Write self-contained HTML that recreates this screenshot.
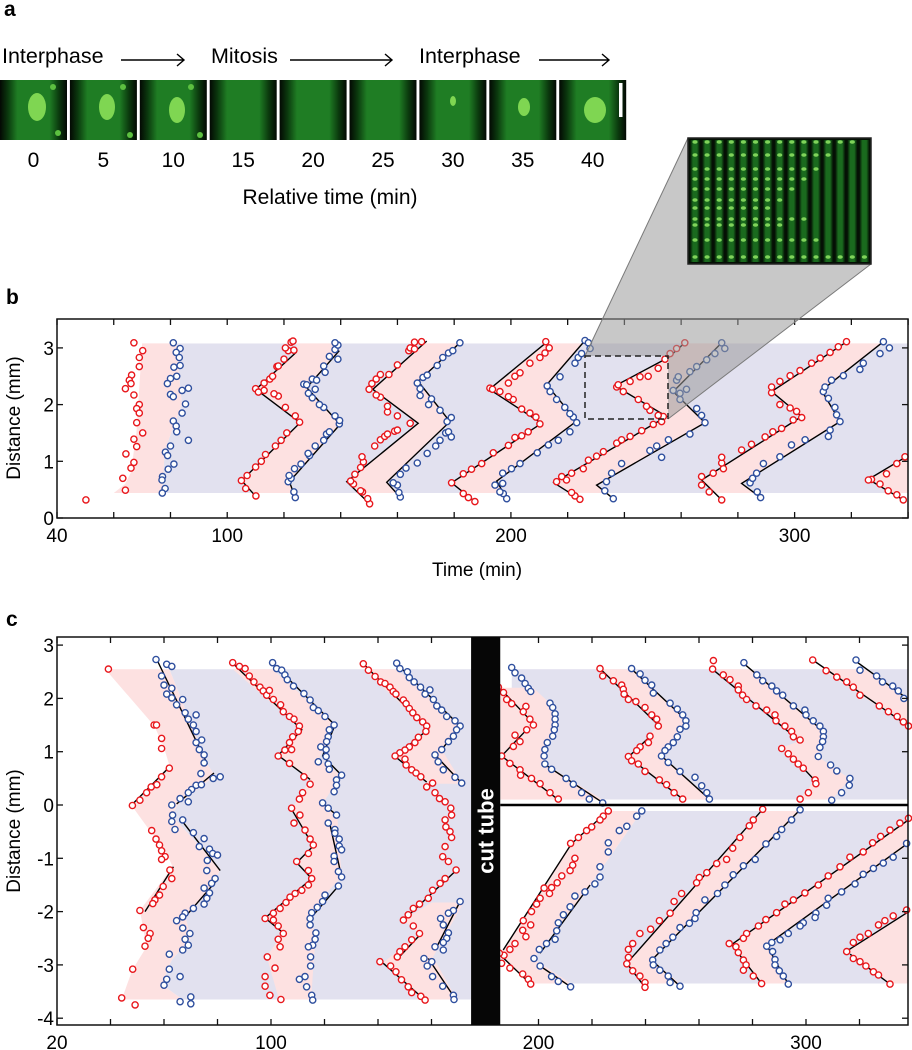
<!DOCTYPE html>
<html><head><meta charset="utf-8"><style>
body{margin:0;background:#fff;}
svg{display:block;font-family:"Liberation Sans",Arial,sans-serif;}
</style></head><body>
<svg id="fig" width="912" height="1050" viewBox="0 0 912 1050" xmlns="http://www.w3.org/2000/svg">
<defs>
<linearGradient id="tileg" x1="0" x2="1" y1="0" y2="0">
<stop offset="0" stop-color="#030803"/><stop offset="0.12" stop-color="#0b3a0e"/><stop offset="0.26" stop-color="#1f7d24"/><stop offset="0.74" stop-color="#1f7d24"/><stop offset="0.88" stop-color="#0b3a0e"/><stop offset="1" stop-color="#030803"/>
</linearGradient>
<linearGradient id="colg" x1="0" x2="1" y1="0" y2="0">
<stop offset="0" stop-color="#041204"/><stop offset="0.3" stop-color="#1a6a1e"/><stop offset="0.7" stop-color="#1a6a1e"/><stop offset="1" stop-color="#041204"/>
</linearGradient>
<clipPath id="clipB"><rect x="57" y="319" width="851" height="199"/></clipPath>
<clipPath id="clipC"><rect x="57" y="637" width="851" height="388"/></clipPath>
</defs>
<g id="panelA">
<text x="4" y="16" font-size="21" font-weight="bold">a</text>
<text x="2" y="63" font-size="21.5">Interphase</text>
<text x="211" y="63" font-size="21.5">Mitosis</text>
<text x="419" y="63" font-size="21.5">Interphase</text>
<g stroke="#000" stroke-width="1.4" fill="none">
<path d="M121 60 H184 M177 54 L184 60 L177 66"/>
<path d="M290 60 H392 M385 54 L392 60 L385 66"/>
<path d="M539 60 H609 M602 54 L609 60 L602 66"/>
</g>
<g id="tiles"></g>
<text x="330" y="204" font-size="21" text-anchor="middle">Relative time (min)</text>
</g>
<g id="panelB">
<text x="6" y="304" font-size="21" font-weight="bold">b</text>
<g id="bBands" clip-path="url(#clipB)"></g>
<g id="bLines" clip-path="url(#clipB)"></g>
<g id="bPts"></g>
<g id="bAxes"></g>
<text x="477" y="576" font-size="19" text-anchor="middle">Time (min)</text>
<text transform="translate(20,418) rotate(-90)" font-size="19" text-anchor="middle">Distance (mm)</text>
</g>
<g id="zoomOverlay">
<polygon points="585,356 688,138 871,138 871,264 668,419 668,356" fill="#9a9a9a" fill-opacity="0.55"/>
<line x1="585" y1="356" x2="688" y2="138" stroke="#7a7a7a" stroke-width="1"/>
<line x1="668" y1="419" x2="871" y2="264" stroke="#7a7a7a" stroke-width="1"/>
<rect x="585" y="356" width="83" height="63" fill="none" stroke="#222" stroke-width="1.5" stroke-dasharray="6,4"/>
<g id="inset"></g>
</g>
<g id="panelC">
<text x="6" y="626" font-size="21" font-weight="bold">c</text>
<g id="cBands" clip-path="url(#clipC)"></g>
<g id="cLines" clip-path="url(#clipC)"></g>
<g id="cPts"></g>
<g id="cAxes"></g>
<text transform="translate(20,831) rotate(-90)" font-size="19" text-anchor="middle">Distance (mm)</text>
</g>
</svg>
<script>
// ---------- Panel b data (time min, distance mm) ----------
const bXTicks = [40,60,80,100,120,140,160,180,200,220,240,260,280,300,320,340];
const bXLabels = [40,100,200,300];
const bYTicks = [0,1,2,3];
const bBand = [0.44,3.08];
const b_r1 = [[67.1,3.09],[70.2,2.95],[69.0,2.83],[69.0,2.67],[66.3,2.52],[65.5,2.43],[66.1,2.37],[64.1,2.28],[67.1,2.17],[69.0,2.0],[68.1,1.93],[69.0,1.85],[68.1,1.68],[70.2,1.5],[67.1,1.39],[68.1,1.26],[64.3,1.13],[67.1,0.98],[66.1,0.88],[63.2,0.70],[64.1,0.49],[50.2,0.32]];
const b_b1 = [[81.0,3.09],[83.4,2.99],[82.0,2.92],[83.1,2.83],[81.2,2.66],[83.4,2.69],[80.0,2.46],[78.9,2.37],[82.2,2.5],[86.3,2.29],[84.1,2.25],[80.0,2.18],[81.0,2.14],[85.3,2.01],[84.1,1.85],[81.0,1.71],[82.0,1.62],[82.2,1.52],[86.3,1.37],[80.0,1.27],[78.2,1.16],[79.0,1.10],[81.2,0.95],[79.2,0.86],[77.2,0.73],[77.0,0.67],[78.1,0.52],[77.1,0.44]];
const b_r2 = [[110.1,0.39],[106.5,0.52],[105,0.66],[107,0.75],[110,0.9],[112,1.0],[113.5,1.12],[117,1.27],[119,1.37],[121,1.5],[124,1.8],[125.5,1.69],[120.5,1.95],[118,2.15],[116.5,2.19],[113,2.25],[110,2.28],[111,2.22],[113,2.38],[115,2.45],[116,2.5],[117.5,2.67],[118,2.68],[120,2.8],[121.5,2.95],[120.5,3.0],[122.5,3.1],[123.2,3.12],[123.5,2.96]];
const b_b2 = [[124,0.36],[123.5,0.46],[121.5,0.64],[122.5,0.7],[121.8,0.75],[123.7,0.87],[126,0.95],[129,1.1],[128.5,1.14],[131,1.27],[134,1.37],[135,1.48],[136,1.52],[139.5,1.66],[139.6,1.72],[138,1.8],[134,1.95],[132.5,2.0],[130,2.12],[128.6,2.2],[127,2.36],[128,2.35],[131,2.27],[130,2.45],[131.5,2.43],[134,2.68],[134.5,2.57],[136,2.85],[138,2.97],[139,3.05],[138,3.09],[139,2.8]];
const b_r3 = [[150.2,0.25],[149.5,0.34],[147.7,0.46],[147,0.48],[144.5,0.6],[143.5,0.65],[145,0.77],[147,0.89],[148,0.99],[147.5,1.08],[152,1.27],[154,1.38],[155.5,1.44],[156.5,1.48],[159,1.53],[160,1.55],[164.5,1.67],[160,1.8],[156.5,1.87],[156.5,1.97],[154,2.13],[152.5,2.17],[150,2.27],[151,2.37],[152.5,2.45],[154,2.53],[157,2.53],[160,2.7],[164,2.95],[164.5,3.0],[166,3.1],[168.5,3.11],[166,2.98]];
const b_b3 = [[161,0.37],[160.5,0.45],[160,0.58],[158.5,0.62],[161,0.77],[163,0.88],[167,0.97],[170.5,1.14],[173.5,1.27],[175,1.37],[177,1.5],[178,1.52],[179,1.43],[177.5,1.7],[179,1.77],[175,1.9],[172,2.1],[171,2.0],[168,2.16],[168,2.28],[167,2.38],[169,2.48],[170.5,2.52],[174,2.69],[176,2.83],[178,2.91],[179.5,2.95],[182,3.09]];
const b_r4 = [[187.3,0.29],[185,0.36],[183.2,0.43],[179.1,0.62],[183.2,0.78],[186.1,0.86],[189.7,0.96],[193.8,1.15],[199.1,1.28],[201.4,1.42],[203.8,1.45],[206.1,1.52],[210.2,1.66],[208.8,1.78],[206.7,1.85],[203.8,1.92],[200.8,2.09],[199.1,2.14],[196.1,2.23],[192.6,2.29],[193.5,2.27],[199.1,2.38],[201.4,2.5],[203.2,2.56],[206.7,2.73],[210.2,2.83],[212,2.91],[213.5,3.0],[212.3,3.11]];
const b_b4 = [[198.5,0.34],[197.3,0.43],[196.1,0.46],[194.4,0.58],[197.1,0.61],[197.1,0.79],[200.2,0.87],[203.2,0.96],[209.3,1.15],[213.2,1.29],[216.7,1.37],[220.8,1.52],[223.2,1.68],[222,1.78],[220.8,1.84],[219,1.95],[216.1,2.09],[213.8,2.23],[212.8,2.33],[217.3,2.49],[222.6,2.73],[223.7,2.83],[224.9,2.9],[226.1,3.13],[227.3,3.09],[227.9,2.99]];
const b_r5 = [[224.3,0.33],[222.6,0.39],[221.4,0.45],[219.6,0.67],[216.1,0.64],[217.9,0.73],[221.4,0.79],[225.5,0.87],[227.3,1.02],[230.2,1.09],[232.6,1.17],[237.3,1.32],[239,1.38],[242,1.44],[246.1,1.54],[250.2,1.65],[253.1,1.7],[253.7,1.79],[251.9,1.81],[249,1.9],[247.8,1.97],[244.9,2.09],[239.6,2.23],[237.3,2.31],[237.8,2.35],[242,2.41],[245.5,2.49],[248.4,2.5],[251.9,2.64],[254.3,2.8],[256.1,2.9],[258.4,2.99],[261.3,3.09]];
const b_b5 = [[236.1,0.34],[233.1,0.48],[233.7,0.64],[235.5,0.79],[239,0.96],[249,1.19],[251.4,1.27],[253.1,1.07],[255.5,1.38],[263.1,1.48],[265.5,1.93],[267.2,1.81],[268.4,1.68],[259.6,2.09],[259.6,2.2],[261.9,2.27],[257.2,2.25],[258.4,2.43],[259,2.49],[263.1,2.58],[265.5,2.67],[269,2.79],[271.9,2.9],[274.3,3.09],[275.4,2.99]];
const b_r6 = [[274.3,0.32],[269.9,0.46],[267.2,0.58],[267.2,0.73],[271.3,0.79],[274.9,0.87],[274.3,0.97],[274.3,1.07],[281.3,1.2],[284.8,1.3],[289.6,1.43],[292.3,1.52],[295.4,1.58],[299.5,1.73],[302.5,1.77],[300.7,1.88],[298.4,1.94],[294.8,2.0],[291.9,2.21],[291.9,2.31],[294.8,2.41],[298.4,2.51],[301.9,2.6],[306,2.73],[309,2.82],[312.5,2.92],[315.4,3.02],[318.3,3.11]];
const b_b6 = [[288,0.36],[286.8,0.46],[284.3,0.62],[285.2,0.7],[286.6,0.79],[289,0.96],[294.8,1.08],[298.9,1.29],[303.7,1.38],[311.9,1.44],[312.5,1.55],[316,1.7],[314.8,1.82],[314.2,1.95],[311.9,2.11],[310.1,2.23],[310.7,2.31],[313,2.43],[317.2,2.51],[323,2.62],[324.2,2.73],[330.1,2.9],[331.3,3.11],[333.4,3.0]];
const b_r7 = [[338.3,0.32],[336,0.41],[333,0.48],[330.1,0.6],[327.1,0.68],[326,0.67],[332.4,0.78],[336,0.96],[338.9,1.08]];
const bf_r1 = [[60,0.44],[64,0.6],[66,0.8],[68,1.5],[70,3.08]];
const bf_b1 = [[77,0.44],[78,1.2],[84,2.0],[82,3.08]];
const bf_r2 = [[110.1,0.38],[105.1,0.66],[125.7,1.68],[110.1,2.27],[124.5,2.93]];
const bf_b2 = [[124,0.36],[121.9,0.64],[139.8,1.65],[128,2.3],[139.5,2.95]];
const bf_r3 = [[150.2,0.25],[142.1,0.64],[167.3,1.67],[151.3,2.27],[170.3,3.12]];
const bf_b3 = [[160.9,0.37],[156.2,0.63],[178.5,1.7],[167.3,2.41],[182,3.09]];
const bf_r4 = [[187.3,0.29],[179.1,0.62],[210.8,1.67],[192.4,2.27],[212.6,3.10]];
const bf_b4 = [[198.5,0.34],[195,0.65],[223.2,1.71],[212.6,2.35],[226.1,3.13]];
const bf_r5 = [[224.4,0.33],[215.1,0.62],[254.9,1.79],[236.7,2.33],[255.5,2.83],[261.3,3.09]];
const bf_b5 = [[236.1,0.34],[230.2,0.58],[268.4,1.68],[257.2,2.23],[274.3,3.09]];
const bf_r6 = [[274.3,0.32],[267.2,0.67],[302.5,1.79],[291.9,2.23],[318.4,3.11]];
const bf_b6 = [[288,0.36],[281.3,0.61],[316,1.70],[309.5,2.25],[331.3,3.11]];
const bf_r7 = [[338.3,0.32],[326,0.68],[340,1.1]];

// ---------- Panel c data ----------
const cXTicks = [20,40,60,80,100,120,140,160,200,220,240,260,280,300,320,340];
const cXLabels = [20,100,200,300];
const cYTicks = [-4,-3,-2,-1,0,1,2,3];
const cCut = [174.8,185.7];
const cBandLeft = [-3.65,2.55];
const cBandUp = [0.1,2.55];
const cBandLow = [-3.35,-0.11];
const c_r1 = [[39.2,2.55],[56.3,1.5],[57.2,1.5],[59.1,1.25],[59.1,1.06],[62,0.69],[59.1,0.53],[57.3,0.38],[55.2,0.34],[53.5,0.23],[51,0.09],[48.2,-0.01],[55.4,-0.48],[57,-0.64],[58.3,-0.75],[59.1,-0.86],[60.4,-0.97],[59.1,-1.02],[62.2,-1.22],[62.9,-1.38],[59.7,-1.53],[58.3,-1.69],[56.6,-1.78],[55.8,-1.85],[51,-1.98],[52.3,-2.3],[54.8,-2.41],[54.1,-2.5],[52.9,-2.65],[48.3,-3.08],[44.2,-3.62],[49.2,-3.75]];
const c_b1 = [[57,2.73],[59.1,2.42],[61,2.64],[62.9,2.6],[60,2.25],[62.9,2.19],[61,2.08],[62.9,2.01],[67,1.98],[64.7,1.88],[67.9,1.73],[69.1,1.61],[72,1.69],[71,1.5],[72,1.38],[74.1,1.22],[72,1.17],[73.2,1.04],[75,0.94],[75,0.79],[73.8,0.59],[72,0.37],[74,0.38],[70.3,0.29],[69.1,0.23],[66,0.12],[69.1,0.06],[62.9,0.0],[78.4,0.5],[81,0.53],[63.2,-0.19],[62.9,-0.31],[64.1,-0.46],[67,-0.28],[71,-0.52],[75,-0.63],[73.2,-0.78],[77,-0.83],[78.2,-0.91],[80,-0.94],[76.2,-1.04],[76,-1.23],[79.1,-1.38],[77.8,-1.47],[75,-1.56],[77,-1.65],[76,-1.75],[75,-1.86],[71,-1.94],[67.9,-2.03],[67,-2.1],[64.7,-2.17],[67,-2.31],[69.7,-2.41],[67.9,-2.52],[69.1,-2.63],[67,-2.72],[62,-2.8],[62,-3.08],[61,-3.27],[60,-3.38],[66,-3.22],[70,-3.6],[70,-3.73],[66,-3.69]];
const c_r2 = [[85.7,2.67],[88.2,2.6],[90.3,2.56],[91.9,2.42],[93.6,2.31],[95.9,2.21],[97.1,2.14],[98.4,2.06],[99.4,2.15],[100.9,1.98],[103.6,1.88],[104.6,1.75],[106.9,1.66],[108.6,1.61],[110.6,1.48],[110.2,1.38],[108.1,1.28],[106.9,1.17],[107.7,1.04],[105.2,1.03],[102.7,0.92],[106.9,0.78],[112.3,0.53],[114.6,0.39],[111.8,0.23],[110.6,0.11],[107.7,-0.06],[110.8,-0.19],[108.6,-0.34],[112.7,-0.47],[114.6,-0.64],[115.8,-0.75],[114,-0.91],[109.6,-1.06],[114,-1.23],[115.2,-1.38],[114,-1.5],[111.5,-1.6],[109,-1.66],[107.1,-1.73],[105.6,-1.83],[103.4,-1.94],[100.9,-2.03],[97.8,-2.13],[100.9,-2.16],[102.7,-2.27],[104.6,-2.41],[102.7,-2.52],[103.4,-2.66],[98.6,-2.85],[101.5,-3.06],[97.8,-3.22],[97.8,-3.4],[99.6,-3.57],[103.7,-3.65]];
const c_b2 = [[100.6,2.67],[102.1,2.56],[104,2.53],[105.2,2.44],[106.1,2.35],[108.4,2.23],[112.3,2.09],[114.6,1.97],[115.8,1.83],[117.7,1.77],[120.2,1.66],[123.6,1.5],[121.8,1.41],[121.4,1.28],[120.8,1.19],[118.6,1.09],[120.6,1.04],[120.6,0.91],[117.7,0.81],[121.4,0.77],[121.8,0.67],[126.4,0.56],[124.5,0.47],[124.5,0.37],[123.6,0.25],[119.3,0.04],[121.4,-0.06],[124.5,-0.19],[121.4,-0.34],[123.9,-0.46],[123.9,-0.53],[125.5,-0.64],[125.5,-0.77],[126.4,-0.84],[123.6,-0.96],[123.6,-1.06],[125.2,-1.25],[126.4,-1.35],[125.2,-1.52],[120.2,-1.69],[119.3,-1.81],[117.3,-1.92],[115.2,-2.02],[114.6,-2.13],[114.6,-2.25],[116.8,-2.4],[116.5,-2.52],[115.6,-2.63],[114,-2.66],[114.8,-2.85],[114.8,-3.02],[112.7,-3.22],[110.6,-3.27],[113.3,-3.41],[115.2,-3.57],[115.6,-3.66]];
const c_r3 = [[134.5,2.65],[136.4,2.53],[138.9,2.41],[141,2.31],[142.6,2.28],[144.5,2.21],[145.7,2.13],[146.7,2.08],[149.5,1.97],[150.5,1.9],[151.7,1.81],[153,1.73],[154.5,1.64],[156.7,1.56],[158.2,1.48],[157.9,1.38],[155.1,1.27],[153.8,1.17],[151.7,1.09],[150.1,1.03],[148.2,0.98],[146.4,0.92],[150.1,0.86],[150.5,0.75],[152.6,0.66],[154.2,0.6],[156,0.53],[158.2,0.34],[160.4,0.41],[161.3,0.23],[163,0.12],[165.1,0.06],[167.2,-0.06],[167.5,-0.19],[165.1,-0.28],[165.4,-0.41],[166.9,-0.5],[167.5,-0.61],[165.1,-0.78],[164.2,-0.97],[166.3,-1.06],[169.2,-1.22],[165.1,-1.38],[163.2,-1.47],[160.4,-1.6],[158.8,-1.75],[155.5,-1.86],[153.2,-1.94],[151.3,-2.06],[149.5,-2.16],[153.2,-2.27],[155.5,-2.41],[152.6,-2.53],[150.1,-2.66],[148.2,-2.75],[147.2,-2.85],[140.7,-2.94],[144.7,-3.02],[146.7,-3.13],[148.8,-3.28],[151.3,-3.41],[152.6,-3.52],[156,-3.59],[157.6,-3.66]];
const c_b3 = [[147,2.66],[148.2,2.56],[151,2.5],[151.7,2.39],[153.5,2.31],[155.9,2.21],[159.4,2.16],[157.6,2.08],[160.7,1.98],[162,1.86],[163.8,1.78],[165.7,1.66],[168.8,1.58],[170.7,1.48],[169.4,1.41],[168.2,1.29],[166.3,1.19],[163.8,1.04],[161.3,0.94],[162.5,0.81],[164.4,0.66],[168.8,0.52],[171.3,0.41],[170.7,-1.81],[168.2,-1.98],[166.3,-2.03],[163.4,-2.13],[164.4,-2.25],[166.3,-2.4],[165.7,-2.5],[164.4,-2.58],[161.3,-2.66],[164.4,-2.72],[157.2,-2.88],[160.1,-2.94],[158.4,-3.02],[160.4,-3.22],[164.2,-3.4],[168.2,-3.57],[168.4,-3.65]];
const cu_r1 = [[185,2.21],[186.9,2.11],[188.1,1.98],[190,1.9],[195.3,1.85],[194.3,1.75],[196.8,1.61],[198.1,1.5],[195.6,1.41],[191.2,1.31],[193.1,1.19],[190.6,1.1],[186.2,0.92],[189.3,0.78],[193.1,0.66],[193.3,0.56],[197.4,0.5],[200.6,0.4],[204.3,0.23],[207.4,0.11]];
const cu_b1 = [[190,2.58],[191.2,2.48],[193.7,2.38],[195,2.28],[196.2,2.19],[197.1,2.13],[204.3,1.91],[205.3,1.83],[206.2,1.71],[206.2,1.61],[206.2,1.5],[205.9,1.41],[205.3,1.29],[203.3,1.17],[202.4,1.04],[202.1,0.92],[202.4,0.77],[204.9,0.67],[210.3,0.5],[213,0.39],[216.1,0.23],[219,0.11],[224,0.04]];
const cu_r2 = [[223,2.56],[224,2.42],[228,2.33],[231.1,2.25],[231.7,2.17],[232,2.08],[233.6,1.98],[236.4,1.94],[239.8,1.83],[242.3,1.69],[244.2,1.61],[244.8,1.48],[241.7,1.29],[241.1,1.17],[238,1.09],[236.7,1.02],[233.6,0.91],[234.8,0.83],[237.3,0.77],[239.8,0.63],[245.2,0.47],[247.9,0.38],[250.7,0.23],[253.9,0.11]];
const cu_b2 = [[234.8,2.56],[238,2.46],[239.8,2.34],[242.3,2.25],[242.9,2.1],[249.2,1.91],[251.9,1.8],[253.9,1.69],[255.1,1.58],[255.1,1.48],[252.9,1.42],[251.9,1.28],[250.4,1.17],[248.5,1.09],[247.3,1.02],[246,0.92],[248.5,0.8],[252.9,0.63],[258.5,0.52],[261,0.36],[262.9,0.23],[263.9,0.11]];
const cu_r3 = [[265.4,2.71],[265.1,2.55],[269.1,2.44],[271.6,2.35],[274.7,2.23],[274.7,2.16],[276.3,2.06],[277.8,1.98],[281.3,1.86],[285.3,1.78],[288.4,1.69],[288.8,1.58],[292.1,1.48],[294.6,1.38],[295.3,1.28],[297.8,1.22],[290.9,1.06],[293.4,0.96],[295.3,0.86],[297.1,0.77],[299,0.69],[303.4,0.47],[303.7,0.4],[300.9,0.23],[297.8,0.11]];
const cu_b3 = [[276.8,2.67],[281.6,2.44],[283.8,2.33],[287.2,2.23],[289,2.14],[291.3,2.06],[295.3,1.86],[299.6,1.78],[300,1.69],[302.7,1.58],[305.2,1.48],[306.5,1.38],[306.5,1.28],[306.2,1.19],[305.2,1.08],[304.6,0.91],[309.2,0.75],[311.5,0.64],[316.4,0.5],[316.2,0.37],[313.3,0.23],[309.6,0.09]];
const cu_r4 = [[302.5,2.72],[307.5,2.52],[311.5,2.4],[315.2,2.31],[317.7,2.21],[320.2,2.06],[327.4,1.86],[330.8,1.75],[334.1,1.66],[336.4,1.56],[338.3,1.48]];
const cu_b4 = [[318.7,2.72],[320.2,2.53],[326.4,2.42],[328.6,2.31],[332.4,2.23],[334.5,2.14],[336.6,2.0]];
const cl_r1 = [[226.1,-0.11],[224.2,-0.21],[223,-0.28],[219.9,-0.41],[218,-0.48],[214.9,-0.61],[212,-0.72],[213.6,-1.0],[212.8,-1.13],[211.8,-1.23],[208.7,-1.33],[207,-1.46],[204.9,-1.55],[204.1,-1.66],[202.1,-1.56],[200.6,-1.75],[199.3,-1.86],[197.4,-2.0],[194.3,-2.17],[197.1,-2.25],[194.1,-2.35],[195.3,-2.47],[191.2,-2.6],[189.3,-2.71],[187.1,-2.82],[185.4,-2.78],[186.2,-2.97],[189.3,-3.06],[194.1,-3.17],[196.2,-3.27],[197.1,-3.36]];
const cl_b1 = [[238.6,-0.11],[236.7,-0.21],[233,-0.4],[230.2,-0.48],[226.1,-0.71],[226.1,-0.88],[223,-1.16],[223,-1.35],[221.1,-1.48],[217.4,-1.63],[213.6,-1.71],[211.8,-1.91],[209.3,-2.06],[207.4,-2.21],[206.8,-2.36],[206.2,-2.52],[203,-2.6],[200.3,-2.71],[198.3,-2.88],[200.6,-3.02],[204.9,-3.22],[207.4,-3.31],[212,-3.41]];
const cl_r2 = [[283.8,-0.08],[280.3,-0.28],[278.8,-0.39],[275.3,-0.61],[272.6,-0.81],[270.3,-1.02],[266.6,-1.1],[262.9,-1.27],[260.1,-1.36],[259.1,-1.46],[253.5,-1.66],[250.7,-1.81],[249.2,-2.03],[245.2,-2.17],[241.9,-2.33],[237.9,-2.41],[235.2,-2.6],[233.6,-2.71],[233.6,-2.86],[233,-2.98],[235.2,-3.11],[237.9,-3.21],[239.8,-3.33],[239.8,-3.42]];
const cl_b2 = [[297.8,-0.09],[294.6,-0.28],[290.9,-0.46],[289,-0.59],[285,-0.73],[281,-1.02],[276.6,-1.14],[272.8,-1.31],[269.7,-1.5],[266.9,-1.66],[262.2,-1.78],[258.9,-2.02],[258.5,-2.13],[256.4,-2.22],[252.9,-2.3],[250.2,-2.48],[247.7,-2.6],[245.4,-2.72],[242.7,-2.91],[242.9,-3.0],[245.4,-3.1],[248.5,-3.21],[249.2,-3.33],[252.9,-3.4]];
const cl_r3 = [[338.3,-0.25],[335.1,-0.34],[331.4,-0.47],[327.9,-0.59],[324.9,-0.71],[321.4,-0.88],[316.4,-0.98],[312.7,-1.16],[308.3,-1.33],[304.6,-1.5],[299.6,-1.65],[295.3,-1.78],[292.1,-1.86],[289,-2.02],[285,-2.15],[282.2,-2.27],[277.8,-2.41],[276.6,-2.5],[271.3,-2.6],[273.8,-2.66],[274.7,-2.77],[276.6,-2.91],[277.6,-3.0],[276.6,-3.1],[280.3,-3.21],[283.4,-3.35]];
const cl_b3 = [[337.6,-0.72],[332.6,-0.98],[328.9,-1.09],[325.2,-1.19],[321.4,-1.3],[318.3,-1.48],[313.3,-1.63],[308.3,-1.75],[307.7,-1.88],[303.7,-2.03],[303.4,-2.11],[299,-2.21],[297.8,-2.27],[293.4,-2.41],[290.3,-2.53],[287.2,-2.58],[285.3,-2.65],[287.5,-2.75],[288.4,-2.9],[288.4,-3.0],[290,-3.11],[291.5,-3.21],[293.4,-3.36]];
const cl_r4 = [[337.6,-1.97],[332.6,-2.08],[329.5,-2.17],[327.1,-2.25],[323.3,-2.41],[320.2,-2.48],[317.7,-2.58],[315.2,-2.75],[317.7,-2.88],[320.2,-2.94],[322.4,-3.02],[325.2,-3.13],[327.1,-3.19],[331.4,-3.36]];
const cfL_r1 = [[38,2.55],[56.3,1.49],[59.7,1.12],[62,0.75],[47.9,-0.01],[55.4,-0.53],[61,-0.91],[63.2,-1.16],[51,-1.98],[53.5,-2.66],[48.2,-3.09],[44.2,-3.65]];
const cfL_b1 = [[62,2.55],[76,0.78],[79,0.55],[65,0.0],[63,-0.2],[81,-1.2],[79,-1.45],[68,-2.1],[70,-2.5],[63,-2.9],[61,-3.1],[60,-3.4],[67,-3.65]];
const cfL_r2 = [[85.7,2.55],[111.5,1.41],[102.7,0.93],[114.6,0.48],[107.7,-0.08],[115.8,-0.77],[109.6,-1.08],[115.2,-1.38],[97.8,-2.12],[104.6,-2.4],[98.4,-2.84],[103,-3.65]];
const cfL_b2 = [[100.6,2.55],[123.9,1.5],[117.7,0.85],[126.4,0.56],[119.3,0.03],[124.8,-0.2],[126.4,-1.35],[120.2,-1.68],[114.2,-2.16],[116.7,-2.4],[115,-3.65]];
const cfL_r3u = [[134.5,2.55],[158.8,1.42],[146.4,0.91],[158.2,0.43],[160,0.4]];
const cfL_b3u = [[147,2.55],[170.7,1.48],[163.8,1.04],[171.3,0.43],[172,0.4]];
const cfL_r3l = [[160,-1.83],[149.5,-2.16],[155.5,-2.41],[142.1,-2.95],[157.6,-3.65]];
const cfL_b3l = [[172,-1.83],[160.6,-2.85],[169.4,-3.65]];
const cfU_r1 = [[185.7,2.2],[198,2.2]];
const cfU_b1 = [[198,2.2],[204.3,1.91],[206.2,1.5],[201.8,0.94],[202.4,0.77],[224,0.1],[185.7,0.1]];
const cfU_r2 = [[223,2.55],[244.8,1.5],[233.6,0.89],[253.9,0.1]];
const cfU_b2 = [[234.6,2.55],[255.1,1.6],[246,0.92],[264.1,0.1]];
const cfU_r3 = [[267,2.55],[297.8,1.2],[291,1.08],[303.4,0.47],[297.5,0.1]];
const cfU_b3 = [[279.5,2.55],[306.5,1.41],[304.7,0.9],[316.4,0.49],[309.6,0.1]];
const cfU_r4 = [[305.5,2.55],[338.3,1.48],[341,1.45]];
const cfU_b4 = [[322,2.55],[336.6,2.0],[341,2.0]];
const cfD_r1 = [[226.1,-0.11],[212,-0.72],[186.8,-2.72],[185.4,-2.8],[197.1,-3.35]];
const cfD_b1 = [[238.6,-0.11],[219.3,-1.5],[198.1,-2.88],[212,-3.35]];
const cfD_r2 = [[283.8,-0.11],[233,-2.97],[239.8,-3.35]];
const cfD_b2 = [[297.8,-0.11],[242.3,-2.91],[252.9,-3.35]];
const cfD_r3 = [[341,-0.2],[272.2,-2.6],[283.4,-3.35]];
const cfD_b3 = [[341,-0.65],[285.3,-2.63],[293.4,-3.35]];
const cfD_r4 = [[341,-1.95],[315.2,-2.72],[331.4,-3.36],[341,-3.36]];
const cLn_r1 = [[[47.9,0.0],[62.2,0.72]],[[52.9,-2.0],[63.5,-1.16]]];
const cLn_b1 = [[[57.3,2.73],[76.2,0.77]],[[64.7,0.02],[78.7,0.6]],[[66,-0.25],[81,-1.23]],[[67.9,-2.1],[80.3,-1.38]]];
const cLn_r2 = [[[85.7,2.66],[111.5,1.41],[102.7,0.93],[114.6,0.48]],[[107.7,-0.08],[115.8,-0.77],[109.6,-1.08],[115.2,-1.38],[97.8,-2.12],[104.6,-2.4]]];
const cLn_b2 = [[[100.6,2.66],[123.9,1.5],[119.3,0.92],[126.4,0.56]],[[119.3,0.03],[124.8,-0.2]],[[122,-0.35],[126.4,-1.35]],[[125.2,-1.52],[114.2,-2.16]]];
const cLn_r3 = [[[134.5,2.65],[158.8,1.42],[146.4,0.91],[158.2,0.43]],[[169.4,-1.22],[149.5,-2.16]],[[147,-2.9],[156,-2.42]],[[142,-2.97],[157.6,-3.66]]];
const cLn_b3 = [[[147,2.65],[170.7,1.48],[163.8,1.04]],[[161.3,0.94],[171.3,0.41]],[[170.7,-1.81],[162,-2.66]],[[158.8,-2.88],[168.4,-3.6]]];
const cLn_ur1 = [[[185,2.22],[196.8,1.6]],[[196.3,1.45],[186.2,0.92],[207.4,0.1]]];
const cLn_ub1 = [[[202.1,0.77],[224.2,0.04]]];
const cLn_ur2 = [[[223,2.56],[244.8,1.5]],[[242,1.3],[233.6,0.9],[253.9,0.11]]];
const cLn_ub2 = [[[234.6,2.56],[255.1,1.6]],[[246,0.92],[264.1,0.1]]];
const cLn_ur3 = [[[264.7,2.56],[298,1.19]],[[299,0.69],[303.5,0.45]]];
const cLn_ub3 = [[[276.6,2.66],[306.5,1.38]]];
const cLn_ur4 = [[[302.5,2.72],[338.3,1.48]]];
const cLn_ub4 = [[[318,2.72],[338.3,1.98]]];
const cLn_lr1 = [[[186.8,-2.72],[212.4,-0.72],[226.1,-0.11]],[[185.4,-2.8],[197.1,-3.36]]];
const cLn_lb1 = [[[200.6,-2.78],[219.3,-1.5]],[[200.6,-3.02],[212,-3.41]]];
const cLn_lr2 = [[[233,-2.97],[283.8,-0.08]],[[233,-2.97],[239.8,-3.42]]];
const cLn_lb2 = [[[242.3,-2.91],[297.8,-0.09]],[[242.3,-2.91],[252.9,-3.4]]];
const cLn_lr3 = [[[272.2,-2.62],[340,-0.22]],[[272.2,-2.62],[283.4,-3.35]]];
const cLn_lb3 = [[[285.3,-2.63],[340,-0.65]],[[285.3,-2.63],[293.4,-3.36]]];
const cLn_lr4 = [[[314,-2.78],[340,-1.95]],[[316.5,-2.8],[331.4,-3.36]]];

// ---------- scales ----------
const NS = 'http://www.w3.org/2000/svg';
const RED = '#e8171c', BLUE = '#2f4f9e', PINK = '#fde1e1', LAV = '#e2e1ef';
function bx(t){ return 57 + (t-40)*2.837; }
function by(d){ return 518 - d*56.7; }
function cx(t){ return 57 + (t-20)*2.675; }
function cy(d){ return 805 - d*53.3; }
function el(tag, parent){ const e = document.createElementNS(NS, tag); parent.appendChild(e); return e; }
function ptsStr(arr, fx, fy){ return arr.map(p => fx(p[0]).toFixed(1)+','+fy(p[1]).toFixed(1)).join(' '); }

function band(parent, redF, blueF, fx, fy, fill, name){
  const poly = el('polygon', parent);
  
  
  const all = redF.concat(blueF.slice().reverse());
  poly.setAttribute('points', ptsStr(all, fx, fy));
  poly.setAttribute('fill', fill);
}
function rectBand(parent, t0, t1, d0, d1, fx, fy, fill, name){
  const r = el('rect', parent);
  
  
  r.setAttribute('x', fx(t0)); r.setAttribute('width', fx(t1)-fx(t0));
  r.setAttribute('y', fy(d1)); r.setAttribute('height', fy(d0)-fy(d1));
  r.setAttribute('fill', fill);
}
function line(parent, arr, fx, fy, name){
  const p = el('polyline', parent);
  
  
  p.setAttribute('points', ptsStr(arr, fx, fy));
  p.setAttribute('fill', 'none'); p.setAttribute('stroke', '#000'); p.setAttribute('stroke-width', '1.4');
}
function dots(parent, arr, color, fx, fy, name){
  arr.forEach(p => {
    const c = el('circle', parent);
    
    
    c.setAttribute('cx', fx(p[0]).toFixed(1)); c.setAttribute('cy', fy(p[1]).toFixed(1));
    c.setAttribute('r', '3.1'); c.setAttribute('fill', '#fff');
    c.setAttribute('stroke', color); c.setAttribute('stroke-width', '1.4');
  });
}
function axes(parent, x0, x1, y0, y1, xt, xl, yt, fx, fy){
  const fr = el('rect', parent);
  
  
  fr.setAttribute('x', x0); fr.setAttribute('y', y0); fr.setAttribute('width', x1-x0); fr.setAttribute('height', y1-y0);
  fr.setAttribute('fill', 'none'); fr.setAttribute('stroke', '#111'); fr.setAttribute('stroke-width', '1.5');
  xt.forEach(t => {
    const x = fx(t);
    [[y0, y0+6],[y1, y1-6]].forEach(s => {
      const l = el('line', parent);
      
      
      l.setAttribute('x1', x); l.setAttribute('x2', x); l.setAttribute('y1', s[0]); l.setAttribute('y2', s[1]);
      l.setAttribute('stroke', '#111'); l.setAttribute('stroke-width', '1.3');
    });
  });
  xl.forEach(t => {
    const tx = el('text', parent);
    
    
    tx.setAttribute('x', fx(t)); tx.setAttribute('y', y1+24); tx.setAttribute('font-size', '19'); tx.setAttribute('text-anchor', 'middle');
    tx.textContent = t;
  });
  yt.forEach(d => {
    const y = fy(d);
    [[x0, x0+6],[x1, x1-6]].forEach(s => {
      const l = el('line', parent);
      
      
      l.setAttribute('y1', y); l.setAttribute('y2', y); l.setAttribute('x1', s[0]); l.setAttribute('x2', s[1]);
      l.setAttribute('stroke', '#111'); l.setAttribute('stroke-width', '1.3');
    });
    const tx = el('text', parent);
    
    
    tx.setAttribute('x', x0-3); tx.setAttribute('y', y+7); tx.setAttribute('font-size', '19'); tx.setAttribute('text-anchor', 'end');
    tx.textContent = d;
  });
}

// ---------- Panel a tiles ----------
const tilesG = document.getElementById('tiles');
const tileTimes = [0,5,10,15,20,25,30,35,40];
const tileBlobs = [[37,107,9,14],[107,107,8,13],[177,110,8,13],null,null,null,[453,101,3,5],[524,107,6,9],[595,110,11,13]];
const tileDots = [[53,87],[58,133],[123,87],[130,135],[191,87],[200,135]];
tileTimes.forEach((tm, i) => {
  const x = i*69.9;
  const r = el('rect', tilesG);
  
  
  r.setAttribute('x', x.toFixed(1)); r.setAttribute('y', 80); r.setAttribute('width', 67); r.setAttribute('height', 60);
  r.setAttribute('fill', 'url(#tileg)');
  const b = tileBlobs[i];
  if (b) {
    const e = el('ellipse', tilesG);
    
    
    e.setAttribute('cx', b[0]); e.setAttribute('cy', b[1]); e.setAttribute('rx', b[2]); e.setAttribute('ry', b[3]);
    e.setAttribute('fill', '#7fd652');
  }
  const lab = el('text', tilesG);
  
  
  lab.setAttribute('x', (x+33.5).toFixed(1)); lab.setAttribute('y', 167); lab.setAttribute('font-size', '21'); lab.setAttribute('text-anchor', 'middle');
  lab.textContent = tm;
});
tileDots.forEach(p => {
  const e = el('circle', tilesG);
  
  
  e.setAttribute('cx', p[0]); e.setAttribute('cy', p[1]); e.setAttribute('r', 3);
  e.setAttribute('fill', '#5cc040');
});
const sb = el('rect', tilesG);


sb.setAttribute('x', 619); sb.setAttribute('y', 83); sb.setAttribute('width', 3.5); sb.setAttribute('height', 34); sb.setAttribute('fill', '#fff');

// ---------- inset ----------
const inset = document.getElementById('inset');
const ib = el('rect', inset);


ib.setAttribute('x', 688); ib.setAttribute('y', 138); ib.setAttribute('width', 183); ib.setAttribute('height', 126);
ib.setAttribute('fill', '#051005'); ib.setAttribute('stroke', '#222'); ib.setAttribute('stroke-width', '1.5');
const insetRows = [[142,14],[155,12],[169,11],[179,10],[189,9],[200,8],[208,7],[219,10],[225,8],[240,11],[257,15]];
for (let k = 0; k < 15; k++) {
  const c = el('rect', inset);
  
  
  c.setAttribute('x', 690 + k*12.1); c.setAttribute('y', 140); c.setAttribute('width', 10); c.setAttribute('height', 122);
  c.setAttribute('fill', 'url(#colg)');
}
insetRows.forEach(rw => {
  for (let k = 0; k < rw[1]; k++) {
    const s = el('ellipse', inset);
    
    
    s.setAttribute('cx', 695 + k*12.1); s.setAttribute('cy', rw[0]); s.setAttribute('rx', 2.6); s.setAttribute('ry', 1.8);
    s.setAttribute('fill', '#7fd35a');
  }
});

// ---------- Panel b ----------
const bBands = document.getElementById('bBands');
const bBandsInner = el('g', bBands);


band(bBandsInner, bf_b1, [[345,bBand[0]],[345,bBand[1]]], bx, by, LAV, 'b-lavender-band');
const bPairs = [[bf_r1,bf_b1],[bf_r2,bf_b2],[bf_r3,bf_b3],[bf_r4,bf_b4],[bf_r5,bf_b5],[bf_r6,bf_b6],[bf_r7,[[345,0.3],[345,1.1]]]];
bPairs.forEach(p => {
  const r = p[0].slice(), b = p[1].slice();
  r.unshift([r[0][0], -1]); r.push([r[r.length-1][0], 5]);
  b.unshift([b[0][0], -1]); b.push([b[b.length-1][0], 5]);
  band(bBandsInner, r, b, bx, by, PINK, 'b-pink-band');
});
const bClipRect = el('clipPath', document.querySelector('defs'));
bClipRect.setAttribute('id', 'bBandClip');
const bcr = el('rect', bClipRect);
bcr.setAttribute('x', bx(40)); bcr.setAttribute('width', bx(340)-bx(40));
bcr.setAttribute('y', by(bBand[1])); bcr.setAttribute('height', by(bBand[0])-by(bBand[1]));
bBandsInner.setAttribute('clip-path', 'url(#bBandClip)');
const bLines = document.getElementById('bLines');
[bf_r2,bf_b2,bf_r3,bf_b3,bf_r4,bf_b4,bf_r5,bf_b5,bf_r6,bf_b6,bf_r7].forEach(f => line(bLines, f, bx, by, 'b-front-fit'));
const bPts = document.getElementById('bPts');
[b_r1,b_r2,b_r3,b_r4,b_r5,b_r6,b_r7].forEach(a => dots(bPts, a, RED, bx, by, 'b-red-point'));
[b_b1,b_b2,b_b3,b_b4,b_b5,b_b6].forEach(a => dots(bPts, a, BLUE, bx, by, 'b-blue-point'));
axes(document.getElementById('bAxes'), 57, 908, 319, 518, bXTicks, bXLabels, bYTicks, bx, by);

// ---------- Panel c ----------
const cBands = document.getElementById('cBands');
function clipG(name, t0, t1, d0, d1){
  const cp = el('clipPath', document.querySelector('defs'));
  cp.setAttribute('id', name);
  const r = el('rect', cp);
  r.setAttribute('x', cx(t0)); r.setAttribute('width', cx(t1)-cx(t0));
  r.setAttribute('y', cy(d1)); r.setAttribute('height', cy(d0)-cy(d1));
  const g = el('g', cBands);
  
  
  g.setAttribute('clip-path', 'url(#' + name + ')');
  return g;
}
const gL = clipG('c-left-band', 20, cCut[0], cBandLeft[0], cBandLeft[1]);
band(gL, cfL_b1, [[cCut[0],2.55],[cCut[0],-3.65]], cx, cy, LAV, 'c-left-lavender');
band(gL, cfL_r1, cfL_b1, cx, cy, PINK, 'c-pink-band');
band(gL, cfL_r2, cfL_b2, cx, cy, PINK, 'c-pink-band');
band(gL, cfL_r3u, cfL_b3u, cx, cy, PINK, 'c-pink-band');
band(gL, cfL_r3l, cfL_b3l, cx, cy, PINK, 'c-pink-band');
const gU = clipG('c-upper-band', cCut[1], 340, cBandUp[0], cBandUp[1]);
rectBand(gU, 190, 341, cBandUp[0], cBandUp[1], cx, cy, LAV, 'c-upper-lavender');
band(gU, cfU_r1, cfU_b1.slice().reverse(), cx, cy, PINK, 'c-pink-band');
band(gU, cfU_r2, cfU_b2, cx, cy, PINK, 'c-pink-band');
band(gU, cfU_r3, cfU_b3, cx, cy, PINK, 'c-pink-band');
band(gU, cfU_r4, cfU_b4, cx, cy, PINK, 'c-pink-band');
const gD = clipG('c-lower-band', cCut[1], 340, cBandLow[0], cBandLow[1]);
band(gD, cfD_b1, [[341,-0.11],[341,-3.35]], cx, cy, LAV, 'c-lower-lavender');
band(gD, cfD_r1, cfD_b1, cx, cy, PINK, 'c-pink-band');
band(gD, cfD_r2, cfD_b2, cx, cy, PINK, 'c-pink-band');
band(gD, cfD_r3, cfD_b3, cx, cy, PINK, 'c-pink-band');
band(gD, cfD_r4, [[341,-1.95]], cx, cy, PINK, 'c-pink-band');

const cLines = document.getElementById('cLines');
[cLn_r1,cLn_b1,cLn_r2,cLn_b2,cLn_r3,cLn_b3,cLn_ur1,cLn_ub1,cLn_ur2,cLn_ub2,cLn_ur3,cLn_ub3,cLn_ur4,cLn_ub4,cLn_lr1,cLn_lb1,cLn_lr2,cLn_lb2,cLn_lr3,cLn_lb3,cLn_lr4].forEach(set => set.forEach(seg => line(cLines, seg, cx, cy, 'c-front-fit')));
const cPts = document.getElementById('cPts');
[c_r1,c_r2,c_r3,cu_r1,cu_r2,cu_r3,cu_r4,cl_r1,cl_r2,cl_r3,cl_r4].forEach(a => dots(cPts, a, RED, cx, cy, 'c-red-point'));
[c_b1,c_b2,c_b3,cu_b1,cu_b2,cu_b3,cu_b4,cl_b1,cl_b2,cl_b3].forEach(a => dots(cPts, a, BLUE, cx, cy, 'c-blue-point'));
const cAx = document.getElementById('cAxes');
axes(cAx, 57, 908, 637, 1025, cXTicks, cXLabels, cYTicks, cx, cy);
const zl = el('line', cAx);


zl.setAttribute('x1', cx(cCut[1])); zl.setAttribute('x2', 908); zl.setAttribute('y1', cy(0)); zl.setAttribute('y2', cy(0));
zl.setAttribute('stroke', '#000'); zl.setAttribute('stroke-width', '2.5');
const bar = el('rect', cAx);


bar.setAttribute('x', cx(cCut[0])); bar.setAttribute('width', cx(cCut[1])-cx(cCut[0]));
bar.setAttribute('y', 637); bar.setAttribute('height', 388); bar.setAttribute('fill', '#060606');
const bt = el('text', cAx);


bt.setAttribute('transform', 'translate(' + ((cx(cCut[0])+cx(cCut[1]))/2 + 8) + ',831) rotate(-90)');
bt.setAttribute('font-size', '22'); bt.setAttribute('font-weight', 'bold'); bt.setAttribute('fill', '#fff'); bt.setAttribute('text-anchor', 'middle');
bt.textContent = 'cut tube';
</script>
</body></html>
